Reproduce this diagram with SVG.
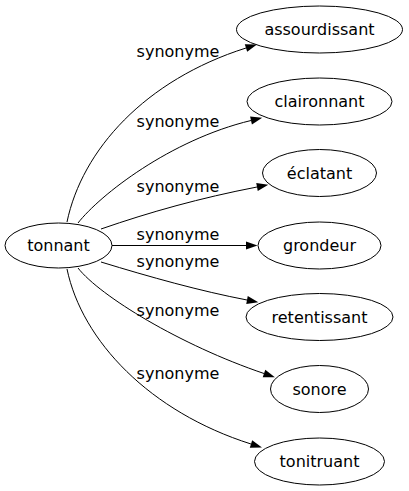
<svg xmlns="http://www.w3.org/2000/svg" width="409" height="491" viewBox="0 0 409 491">
<style>
  .node ellipse { fill: none; stroke: #000; stroke-width: 1; }
  text { font-family: "DejaVu Sans", sans-serif; font-size: 16px; fill: #000; text-anchor: middle; }
  .edge path { fill: none; stroke: #000; stroke-width: 1; marker-end: url(#arrow); }
</style>
<defs>
  <marker id="arrow" markerUnits="userSpaceOnUse" markerWidth="13" markerHeight="10" refX="0" refY="4" orient="auto" overflow="visible">
    <path d="M0,0 L11.5,4 L0,8 Z" fill="#000"/>
  </marker>
</defs>
<rect width="409" height="491" fill="#fff"/>
<g id="connectors">
  <g class="edge" id="e1"><path d="M67,222 C82,150 145,80 246,48"/><text x="178" y="56.7">synonyme</text></g>
  <g class="edge" id="e2"><path d="M78,223 C100,195 170,140 251,120.5"/><text x="178" y="127.3">synonyme</text></g>
  <g class="edge" id="e3"><path d="M101,229 C150,212 200,198 257,187"/><text x="178" y="191.7">synonyme</text></g>
  <g class="edge" id="e4"><path d="M112,245.5 L246,245.5"/><text x="178" y="239.5">synonyme</text></g>
  <g class="edge" id="e5"><path d="M101,262 C150,277 200,291 247,300"/><text x="178" y="266.7">synonyme</text></g>
  <g class="edge" id="e6"><path d="M78,268 C100,296 180,345 264,373.5"/><text x="178" y="316">synonyme</text></g>
  <g class="edge" id="e7"><path d="M67,269 C82,341 150,412 251,444"/><text x="178" y="379.3">synonyme</text></g>
</g>
<g class="node" id="tonnant"><ellipse cx="58.5" cy="245.5" rx="53.5" ry="22.5"/><text x="58.5" y="251">tonnant</text></g>
<g class="node" id="assourdissant"><ellipse cx="319.5" cy="29.5" rx="83" ry="23.5"/><text x="319.5" y="35">assourdissant</text></g>
<g class="node" id="claironnant"><ellipse cx="319.5" cy="101.5" rx="72.5" ry="23.5"/><text x="319.5" y="107">claironnant</text></g>
<g class="node" id="eclatant"><ellipse cx="319.5" cy="173" rx="57" ry="23.5"/><text x="319.5" y="178.5">éclatant</text></g>
<g class="node" id="grondeur"><ellipse cx="319.5" cy="245.5" rx="61.5" ry="23.5"/><text x="319.5" y="251">grondeur</text></g>
<g class="node" id="retentissant"><ellipse cx="319.5" cy="317" rx="73.5" ry="23.5"/><text x="319.5" y="322.5">retentissant</text></g>
<g class="node" id="sonore"><ellipse cx="319.5" cy="389" rx="49" ry="23.5"/><text x="319.5" y="394.5">sonore</text></g>
<g class="node" id="tonitruant"><ellipse cx="319.5" cy="461.5" rx="65" ry="23.5"/><text x="319.5" y="467">tonitruant</text></g>
</svg>
